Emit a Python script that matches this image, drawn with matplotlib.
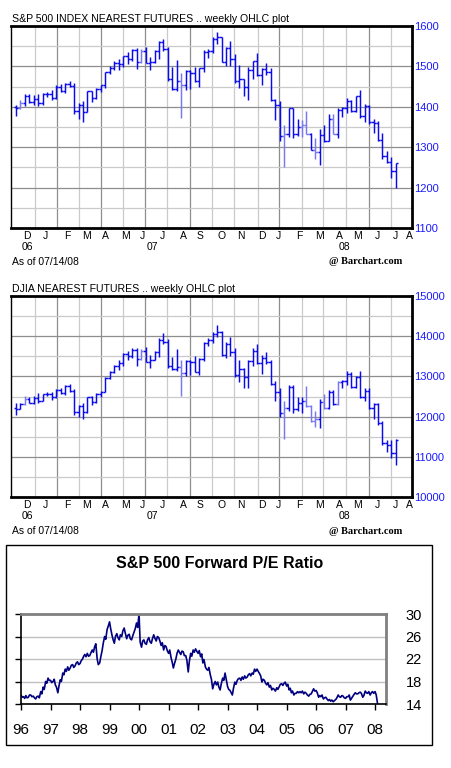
import numpy as np
import matplotlib.pyplot as plt
import pandas as pd

plt.rcParams['font.family'] = ['Liberation Sans', 'DejaVu Sans']

W, H = 452, 768

# ---- weekly OHLC, week 0 = week ending 2006-12-01 ----
sp_open = [1400, 1398, 1409, 1427, 1412, 1420, 1410, 1432, 1432, 1423, 1450, 1439, 1457,
           1452, 1389, 1404, 1388, 1438, 1422, 1445, 1454, 1486, 1496, 1508, 1507, 1525,
           1518, 1540, 1512, 1538, 1508, 1510, 1537, 1561, 1544, 1468, 1443, 1463, 1455,
           1489, 1483, 1465, 1495, 1536, 1538, 1568, 1572, 1511, 1546, 1519, 1463, 1468,
           1450, 1491, 1514, 1478, 1494, 1486, 1416, 1405, 1327, 1333, 1397, 1333, 1350,
           1354, 1332, 1293, 1288, 1330, 1316, 1371, 1333, 1391, 1398, 1415, 1389, 1427,
           1376, 1401, 1362, 1361, 1319, 1279, 1263, 1240]
sp_high = [1404, 1418, 1432, 1432, 1428, 1431, 1433, 1437, 1441, 1453, 1456, 1459, 1463,
           1458, 1410, 1414, 1440, 1439, 1447, 1455, 1487, 1501, 1513, 1518, 1526, 1535,
           1544, 1545, 1543, 1547, 1523, 1540, 1564, 1567, 1549, 1498, 1515, 1483, 1492,
           1492, 1499, 1497, 1541, 1543, 1572, 1586, 1574, 1547, 1562, 1530, 1503, 1470,
           1498, 1514, 1533, 1495, 1509, 1496, 1420, 1414, 1354, 1398, 1398, 1370, 1368,
           1389, 1336, 1322, 1346, 1355, 1381, 1381, 1396, 1399, 1423, 1417, 1427, 1441,
           1407, 1405, 1371, 1366, 1336, 1291, 1275, 1262]
sp_low = [1376, 1394, 1403, 1410, 1405, 1403, 1404, 1425, 1416, 1420, 1437, 1434, 1449,
          1382, 1370, 1363, 1386, 1413, 1419, 1437, 1446, 1481, 1490, 1492, 1499, 1505,
          1514, 1494, 1508, 1508, 1490, 1509, 1518, 1538, 1464, 1442, 1440, 1372, 1442,
          1443, 1461, 1449, 1487, 1521, 1533, 1556, 1510, 1500, 1500, 1460, 1447, 1427,
          1416, 1470, 1477, 1455, 1478, 1415, 1367, 1316, 1252, 1325, 1322, 1328, 1326,
          1332, 1292, 1271, 1256, 1312, 1315, 1332, 1324, 1375, 1384, 1387, 1386, 1373,
          1362, 1357, 1335, 1315, 1272, 1260, 1225, 1200]
sp_close = [1398, 1409, 1427, 1412, 1420, 1410, 1432, 1432, 1423, 1450, 1439, 1457, 1452,
            1389, 1404, 1388, 1438, 1422, 1445, 1454, 1486, 1496, 1508, 1507, 1525, 1518,
            1540, 1512, 1538, 1508, 1510, 1537, 1561, 1544, 1468, 1443, 1463, 1455, 1489,
            1483, 1465, 1495, 1536, 1538, 1568, 1572, 1511, 1546, 1519, 1463, 1468, 1450,
            1491, 1514, 1478, 1494, 1486, 1416, 1405, 1327, 1333, 1397, 1333, 1350, 1354,
            1332, 1293, 1288, 1330, 1316, 1371, 1333, 1391, 1398, 1415, 1389, 1427, 1376,
            1401, 1362, 1361, 1319, 1279, 1263, 1240, 1260]
sp_light = [1, 28, 37, 60, 64, 65, 67, 71]

dj_open = [12221, 12194, 12307, 12445, 12343, 12463, 12398, 12556, 12565, 12487, 12653, 12580,
           12768, 12647, 12114, 12276, 12110, 12481, 12354, 12560, 12612, 12962, 13120, 13265,
           13327, 13556, 13507, 13668, 13424, 13639, 13360, 13409, 13611, 13908, 13851, 13266,
           13182, 13239, 13079, 13379, 13358, 13114, 13443, 13821, 13896, 14066, 14093, 13522,
           13806, 13595, 13043, 13177, 12980, 13372, 13625, 13340, 13450, 13366, 12800, 12606,
           12099, 12207, 12743, 12182, 12348, 12381, 12266, 11894, 11951, 12361, 12216, 12609,
           12325, 12849, 12891, 13058, 12745, 12986, 12479, 12638, 12209, 12307, 11842, 11346,
           11288, 11100]
dj_high = [12340, 12345, 12510, 12500, 12510, 12580, 12560, 12620, 12600, 12680, 12700, 12790,
           12800, 12690, 12300, 12340, 12500, 12510, 12580, 12640, 12980, 13140, 13290, 13400,
           13570, 13630, 13700, 13700, 13680, 13720, 13520, 13640, 13960, 14070, 13920, 13480,
           13680, 13400, 13420, 13420, 13500, 13460, 13850, 13960, 14110, 14280, 14140, 13850,
           13980, 13700, 13400, 13200, 13400, 13700, 13800, 13520, 13600, 13400, 12880, 12700,
           12400, 12780, 12780, 12500, 12500, 12750, 12300, 12150, 12450, 12550, 12650, 12650,
           12880, 12920, 13130, 13100, 13020, 13140, 12700, 12700, 12330, 12350, 11900, 11420,
           11420, 11440]
dj_low = [12050, 12180, 12300, 12330, 12320, 12340, 12380, 12510, 12420, 12460, 12550, 12540,
          12620, 12050, 12000, 11950, 12100, 12300, 12340, 12480, 12600, 12930, 13080, 13150,
          13270, 13400, 13470, 13260, 13400, 13350, 13200, 13400, 13480, 13800, 13220, 13150,
          13140, 12520, 13020, 13030, 13100, 13040, 13380, 13750, 13840, 13990, 13500, 13450,
          13500, 12990, 12870, 12720, 12700, 13250, 13300, 13050, 13300, 12780, 12400, 12000,
          11450, 12150, 12100, 12150, 12100, 12250, 11870, 11750, 11720, 12200, 12200, 12300,
          12280, 12700, 12780, 12720, 12700, 12460, 12380, 12180, 11950, 11800, 11300, 11110,
          10960, 10800]
dj_close = [12194, 12307, 12445, 12343, 12463, 12398, 12556, 12565, 12487, 12653, 12580, 12768,
            12647, 12114, 12276, 12110, 12481, 12354, 12560, 12612, 12962, 13120, 13265, 13327,
            13556, 13507, 13668, 13424, 13639, 13360, 13409, 13611, 13908, 13851, 13266, 13182,
            13239, 13079, 13379, 13358, 13114, 13443, 13821, 13896, 14066, 14093, 13522, 13806,
            13595, 13043, 13177, 12980, 13372, 13625, 13340, 13450, 13366, 12800, 12606, 12099,
            12207, 12743, 12182, 12348, 12381, 12266, 11894, 11951, 12361, 12216, 12609, 12325,
            12849, 12891, 13058, 12745, 12986, 12479, 12638, 12209, 12307, 11842, 11346, 11288,
            11100, 11430]
dj_light = [2, 28, 37, 60, 65, 66, 67, 69, 72]

sp_ticks = [1100, 1200, 1300, 1400, 1500, 1600]
dj_ticks = [10000, 11000, 12000, 13000, 14000, 15000]

month_labels = ['D', 'J', 'F', 'M', 'A', 'M', 'J', 'J', 'A', 'S', 'O', 'N', 'D',
                'J', 'F', 'M', 'A', 'M', 'J', 'J', 'A']
month_pos = [2.5, 6.7, 11.4, 15.7, 20.1, 24.6, 28.4, 32.7, 37.4, 41.2, 46.1, 50.3, 55.0,
             58.8, 63.3, 68.0, 72.3, 76.5, 80.8, 84.8, 88.1]
year_labels = ['06', '07', '08']
year_pos = [2.5, 30.6, 73.4]

# vertical grid (every 5 weeks)
grid_weeks = [4.2, 9.2, 14.1, 19.0, 23.9, 28.9, 33.8, 38.9, 43.8, 48.8, 54.1, 58.8,
              63.9, 68.8, 73.8, 78.9, 83.9]
grid_dark = [0, 1, 0, 1, 0, 1, 0, 1, 0, 0, 0, 1, 0, 0, 0, 1, 0]

# ---- S&P 500 forward P/E, twice a month from Jan 1996 ----
pe_values = [
    15.6, 15.2, 15.3, 15.0, 15.5, 15.1, 15.2, 15.6, 15.6, 15.3, 15.4, 15.1,
    14.9, 15.3, 15.4, 15.1, 16.2, 15.8, 17.0, 16.6, 18.0, 17.7, 18.6, 18.2,
    18.2, 17.8, 18.0, 18.4, 17.4, 17.0, 16.0, 17.2, 18.3, 18.0, 19.5, 19.2,
    20.2, 19.8, 20.6, 20.0, 20.4, 20.9, 21.0, 20.5, 20.8, 21.3, 21.5, 21.0,
    21.2, 21.7, 22.0, 22.5, 22.8, 22.4, 23.0, 22.5, 22.6, 23.1, 23.6, 23.2,
    24.2, 24.7, 22.0, 21.0, 21.3, 22.4, 23.5, 24.8, 26.0, 25.5, 27.2, 27.8,
    28.6, 27.4, 26.2, 25.4, 24.8, 26.0, 26.5, 25.8, 25.4, 26.3, 26.0, 27.0,
    27.5, 26.6, 25.6, 26.2, 26.4, 25.6, 25.4, 26.1, 26.8, 27.4, 28.4, 27.6,
    30.0, 25.0, 24.1, 25.2, 25.4, 24.8, 24.6, 25.4, 25.8, 25.1, 24.8, 25.6,
    26.3, 25.7, 25.2, 26.0, 25.8, 25.2, 24.4, 24.9, 23.6, 24.4, 24.2, 23.5,
    23.0, 23.6, 22.2, 21.4, 20.4, 21.2, 22.0, 23.0, 23.6, 23.2, 22.8, 23.4,
    23.3, 22.6, 22.6, 21.8, 19.7, 21.6, 23.0, 22.5, 23.6, 23.2, 23.8, 23.4,
    23.0, 23.5, 22.4, 22.9, 21.3, 21.9, 20.6, 20.2, 20.0, 20.5, 19.2, 18.4,
    16.7, 17.5, 18.0, 17.4, 17.9, 17.0, 16.5, 17.6, 18.6, 18.2, 19.5, 18.4,
    17.1, 16.6, 16.4, 16.0, 15.6, 16.8, 17.9, 17.5, 18.2, 18.5, 18.6, 18.2,
    18.8, 18.4, 19.0, 18.6, 18.8, 19.2, 19.4, 19.0, 19.5, 19.3, 20.2, 19.8,
    20.2, 19.8, 19.4, 19.0, 17.9, 18.4, 18.2, 17.7, 17.4, 17.8, 17.0, 17.3,
    16.5, 16.8, 16.6, 16.3, 16.9, 16.6, 17.1, 17.5, 17.6, 17.3, 17.7, 17.9,
    17.2, 17.5, 16.5, 16.8, 16.0, 16.3, 15.6, 15.9, 15.9, 16.2, 16.0, 16.2,
    16.0, 16.3, 15.8, 16.1, 15.9, 15.6, 15.4, 15.7, 15.8, 16.2, 16.7, 16.3,
    16.4, 16.0, 15.2, 15.5, 15.3, 15.6, 14.9, 15.1, 15.2, 14.9, 14.6, 14.8,
    14.5, 14.7, 14.4, 14.6, 14.8, 15.1, 15.6, 15.3, 15.2, 15.5, 15.4, 15.1,
    15.0, 15.3, 15.3, 15.6, 14.7, 15.0, 15.4, 15.7, 16.0, 15.8, 15.8, 16.0,
    16.1, 15.9, 15.2, 15.5, 16.3, 16.0, 15.9, 16.2, 15.6, 16.0, 16.2, 15.9,
    16.2, 15.6, 14.0]
pe_dates = pd.date_range('1996-01-01', periods=len(pe_values), freq='SMS')
pe_ticks = [14, 18, 22, 26, 30]
pe_years = pd.date_range('1996-01-01', '2008-01-01', freq='YS')
pe_year_labels = [f"{d.year % 100:02d}" for d in pe_years]


def rect(l, t, r, b):
    return [l / W, 1 - b / H, (r - l) / W, (b - t) / H]


def fy(y):
    return 1 - y / H


fig = plt.figure(figsize=(W / 100, H / 100), dpi=100)

BLUE = '#0a0aee'
LIGHT = '#7878f0'


def ohlc_panel(top, bottom, title, ticks, o, h, l, c, light):
    ax = fig.add_axes(rect(11, top, 412, bottom))
    ax.set_xlim(-1.1, 88.6)
    ax.set_ylim(ticks[0], ticks[-1])
    for g, d in zip(grid_weeks, grid_dark):
        ax.axvline(g, color='#8e8e8e' if d else '#cacaca', lw=0.9, zorder=0)
    half = (ticks[1] - ticks[0]) / 2
    ax.set_yticks(ticks)
    ax.set_yticks([t + half for t in ticks[:-1]], minor=True)
    ax.grid(axis='y', which='major', color='#8e8e8e', lw=0.9, zorder=0)
    ax.grid(axis='y', which='minor', color='#cacaca', lw=0.9, zorder=0)
    ax.set_axisbelow(True)

    wk = np.arange(len(o))
    cols = [LIGHT if i in light else BLUE for i in wk]
    ax.vlines(wk, l, h, colors=cols, lw=1.05, zorder=3)
    ax.hlines(o, wk - 0.5, wk, colors=cols, lw=1.05, zorder=3)
    ax.hlines(c, wk, wk + 0.5, colors=cols, lw=1.05, zorder=3)

    ax.yaxis.tick_right()
    ax.tick_params(axis='y', which='both', length=0, pad=1.5,
                   labelcolor='#1a1aff', labelsize=8)
    ax.set_yticklabels([str(t) for t in ticks])
    ax.set_xticks(month_pos, month_labels)
    ax.tick_params(axis='x', length=0, pad=2.5, labelsize=7.5)
    for lab, p in zip(year_labels, year_pos):
        ax.text(p, -0.095, lab, transform=ax.get_xaxis_transform(),
                ha='center', va='center', fontsize=7.5)

    for side in ['top', 'right', 'bottom']:
        ax.spines[side].set_linewidth(2)
    ax.spines['left'].set_linewidth(1)

    fig.text(12 / W, fy(top - 7), title, fontsize=7.6, va='center', ha='left')
    fig.text(12 / W, fy(bottom + 34), 'As of 07/14/08', fontsize=7.5,
             va='center', ha='left')
    fig.text(329 / W, fy(bottom + 34), '@ Barchart.com', fontsize=7.5,
             va='center', ha='left', family='Liberation Serif', weight='bold')
    return ax


ohlc_panel(26, 228, 'S&P 500 INDEX NEAREST FUTURES .. weekly OHLC plot', sp_ticks,
           sp_open, sp_high, sp_low, sp_close, sp_light)
ohlc_panel(296, 497, 'DJIA NEAREST FUTURES .. weekly OHLC plot', dj_ticks,
           dj_open, dj_high, dj_low, dj_close, dj_light)

# ---- P/E panel ----
fig.add_artist(plt.Rectangle((6 / W, fy(745)), 426 / W, 200 / H, fill=False,
                             ec='black', lw=1.0, transform=fig.transFigure))
fig.text(220 / W, fy(563), 'S&P 500 Forward P/E Ratio', fontsize=11.5,
         weight='bold', ha='center', va='center')

ax3 = fig.add_axes(rect(21, 614, 386, 704))
ax3.plot(pe_dates, pe_values, color='#000080', lw=1.2)
ax3.set_xlim(pd.Timestamp('1996-01-01'), pd.Timestamp('2008-05-15'))
ax3.set_ylim(14, 30)
ax3.set_yticks(pe_ticks)
ax3.set_yticklabels([str(t) for t in pe_ticks])
ax3.grid(axis='y', color='#c0c0c0', lw=1.0)
ax3.set_axisbelow(True)
ax3.tick_params(axis='y', left=True, right=False, labelleft=False, labelright=True,
                length=4, width=1, pad=10, labelsize=10.5, colors='black')
ax3.set_xticks(pe_years, pe_year_labels)
ax3.tick_params(axis='x', length=4, width=1, pad=10, labelsize=11)
ax3.spines['top'].set_color('#808080')
ax3.spines['top'].set_linewidth(2)
ax3.spines['right'].set_color('#808080')
ax3.spines['right'].set_linewidth(2)
ax3.spines['left'].set_linewidth(1.2)
ax3.spines['bottom'].set_linewidth(1.2)

fig.savefig('out.png', dpi=100)
